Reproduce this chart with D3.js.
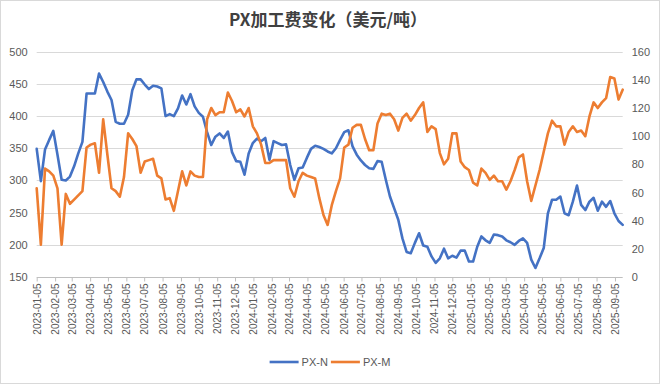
<!DOCTYPE html>
<html>
<head>
<meta charset="utf-8">
<script src="https://cdn.jsdelivr.net/npm/d3@7"></script>
<style>
  body { margin: 0; background: #fff; }
  svg { display: block; font-family: 'Liberation Sans', Arial, sans-serif; }
</style>
</head>
<body>
<div id="chart"></div>
<script>
// weekly readings, first one on 2023-01-05
const startDate = '2023-01-05'
const weekCount = 142

// PX-N, left axis
const pxN = [
  349, 299, 348, 363, 377, 340, 301, 300, 306, 322, 342, 360, 435, 435, 435, 466,
  453, 438, 425, 391, 388, 388, 402, 440, 457, 457, 449, 442, 447, 446, 443, 400,
  403, 400, 412, 432, 418, 434, 415, 405, 399, 375, 355, 368, 373, 366, 376, 344,
  330, 329, 309, 342, 358, 365, 361, 366, 332, 361, 358, 355, 356, 324, 301, 319,
  320, 335, 349, 354, 352, 349, 345, 342, 350, 363, 375, 378, 353, 340, 331, 324,
  319, 318, 330, 329, 301, 275, 257, 239, 210, 189, 187, 203, 218, 199, 197, 182,
  172, 179, 194, 179, 183, 180, 191, 191, 174, 174, 197, 213, 207, 203, 216, 215,
  213, 207, 204, 200, 206, 210, 203, 177, 164, 179, 195, 249, 270, 270, 275, 249,
  246, 267, 292, 262, 254, 267, 273, 253, 267, 259, 268, 249, 237, 231
]

// PX-M, right axis
const pxM = [
  63, 23, 77, 75, 72, 63, 23, 59, 52, 55, 58, 61, 92, 94, 95, 74,
  112, 87, 63, 61, 57, 71, 102, 98, 93, 74, 82, 83, 84, 72, 70, 55,
  56, 47, 61, 75, 65, 75, 72, 71, 71, 112, 120, 115, 117, 117, 131, 125,
  117, 119, 114, 120, 107, 102, 94, 81, 81, 83, 83, 83, 83, 63, 57, 68,
  74, 72, 71, 70, 56, 44, 37, 51, 61, 70, 92, 94, 106, 108, 108, 98,
  90, 90, 109, 116, 115, 116, 112, 104, 113, 116, 111, 115, 120, 124, 103, 107,
  105, 88, 80, 84, 102, 102, 82, 78, 76, 67, 65, 77, 74, 69, 72, 68,
  68, 62, 68, 76, 85, 87, 68, 54, 65, 76, 89, 102, 111, 107, 107, 94,
  103, 107, 103, 104, 100, 114, 124, 120, 124, 127, 142, 141, 126, 133
]

const leftTicks = [150, 200, 250, 300, 350, 400, 450, 500]
const rightTicks = [0, 20, 40, 60, 80, 100, 120, 140, 160]

const series = [
  { name: 'PX-N', values: pxN, axis: 'left', color: '#4472C4' },
  { name: 'PX-M', values: pxM, axis: 'right', color: '#ED7D31' }
]

const size = { x: 660, y: 384 }
const plot = { left: 36.7, right: 622.7, top: 51.7, bottom: 277 }

const parse = d3.timeParse('%Y-%m-%d')
const fmt = d3.timeFormat('%Y-%m-%d')
const first = parse(startDate)
const dates = d3.range(weekCount).map(i => d3.timeDay.offset(first, i * 7))

const svg = d3.select('#chart')
  .append('svg')
  .attr('width', size.x)
  .attr('height', size.y)

// frame
svg.append('rect')
  .attr('x', 0.5)
  .attr('y', 0.5)
  .attr('width', size.x - 1)
  .attr('height', size.y - 1)
  .attr('fill', '#fff')
  .attr('stroke', '#d9d9d9')

const x = d3.scaleTime()
  .domain([dates[0], dates[dates.length - 1]])
  .range([plot.left, plot.right])
const yLeft = d3.scaleLinear().domain([150, 500]).range([plot.bottom, plot.top])
const yRight = d3.scaleLinear().domain([0, 160]).range([plot.bottom, plot.top])

// title
svg.append('text')
  .attr('x', 328)
  .attr('y', 26)
  .attr('text-anchor', 'middle')
  .attr('font-family', "'Noto Sans CJK SC', sans-serif")
  .attr('font-size', '17px')
  .attr('font-weight', 700)
  .attr('fill', '#404040')
  .text('PX加工费变化（美元/吨）')

// gridlines
svg.append('g')
  .selectAll('line.grid')
  .data(leftTicks.slice(1))
  .enter()
  .append('line')
  .attr('class', 'grid')
  .attr('x1', plot.left)
  .attr('x2', plot.right)
  .attr('y1', d => Math.round(yLeft(d)) + 0.5)
  .attr('y2', d => Math.round(yLeft(d)) + 0.5)
  .attr('stroke', '#d9d9d9')

// left axis
const leftAxis = svg.append('g')
  .attr('transform', `translate(${plot.left - 9}, 0)`)
  .call(d3.axisLeft(yLeft).tickValues(leftTicks).tickSize(0).tickPadding(0))
leftAxis.select('.domain').remove()
leftAxis.selectAll('text')
  .attr('font-size', '11px')
  .attr('fill', '#595959')
  .attr('font-family', "'Liberation Sans', sans-serif")

// right axis
const rightAxis = svg.append('g')
  .attr('transform', `translate(${plot.right + 9}, 0)`)
  .call(d3.axisRight(yRight).tickValues(rightTicks).tickSize(0).tickPadding(0))
rightAxis.select('.domain').remove()
rightAxis.selectAll('text')
  .attr('font-size', '11px')
  .attr('fill', '#595959')
  .attr('font-family', "'Liberation Sans', sans-serif")

// bottom axis, a tick on the 5th of every month
const monthTicks = d3.timeMonth.range(d3.timeMonth.floor(first), dates[dates.length - 1])
  .map(d => d3.timeDay.offset(d, 4))
const bottomAxis = svg.append('g')
  .attr('transform', `translate(0, ${Math.round(plot.bottom) + 0.5})`)
  .call(d3.axisBottom(x).tickValues(monthTicks).tickFormat(fmt).tickSizeInner(4).tickSizeOuter(0).tickPadding(4))
bottomAxis.select('.domain')
  .attr('stroke', '#bfbfbf')
  .attr('d', `M${plot.left},0H${plot.right}`)
bottomAxis.selectAll('.tick line').attr('stroke', '#bfbfbf')
bottomAxis.selectAll('text')
  .attr('font-size', '10px')
  .attr('fill', '#595959')
  .attr('font-family', "'Liberation Sans', sans-serif")
  .attr('text-anchor', 'end')
  .attr('dy', '0.35em')
  .attr('transform', 'translate(0, 6) rotate(-90)')
  .attr('x', 0)
  .attr('y', 0)

// lines
series.forEach(s => {
  const yScale = s.axis === 'left' ? yLeft : yRight
  const line = d3.line()
    .x((d, i) => x(dates[i]))
    .y(d => yScale(d))
  svg.append('path')
    .datum(s.values)
    .attr('fill', 'none')
    .attr('stroke', s.color)
    .attr('stroke-width', 2.6)
    .attr('stroke-linejoin', 'round')
    .attr('stroke-linecap', 'round')
    .attr('d', line)
})

// legend
const legend = svg.append('g').attr('class', 'group-legend')
let offset = 0
series.forEach(s => {
  const node = legend.append('g').attr('transform', `translate(${offset}, 0)`)
  node.append('line')
    .attr('x1', 0)
    .attr('x2', 29)
    .attr('y1', 0)
    .attr('y2', 0)
    .attr('stroke', s.color)
    .attr('stroke-width', 2.6)
  const label = node.append('text')
    .attr('x', 32)
    .attr('y', 0)
    .attr('dy', '0.35em')
    .attr('font-size', '11px')
    .attr('fill', '#595959')
    .text(s.name)
  offset += 32 + label.node().getComputedTextLength() + 3
})
const legendWidth = legend.node().getBBox().width
legend.attr('transform', `translate(${(size.x - legendWidth) / 2}, 362)`)
</script>
</body>
</html>
